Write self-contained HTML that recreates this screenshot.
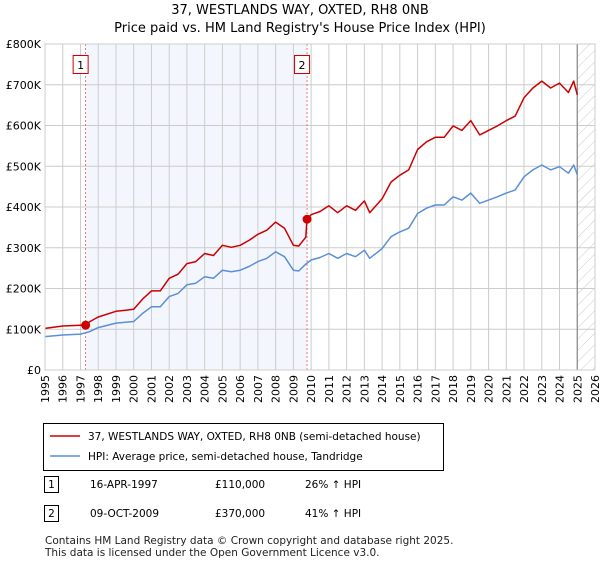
<!DOCTYPE html>
<html><head><meta charset="utf-8"><style>
body{margin:0;background:#fff;font-family:"Liberation Sans","DejaVu Sans",sans-serif;}
svg text{font-family:"DejaVu Sans","Liberation Sans",sans-serif;}
</style></head><body>
<svg width="600" height="560" id="chart">
<defs><pattern id="hatch" width="8" height="8" patternUnits="userSpaceOnUse" patternTransform="rotate(45)"><line x1="0" y1="0" x2="0" y2="8" stroke="#ccc" stroke-width="1"/></pattern></defs>
<text x="300" y="14" text-anchor="middle" font-size="13">37, WESTLANDS WAY, OXTED, RH8 0NB</text>
<text x="300" y="32" text-anchor="middle" font-size="13">Price paid vs. HM Land Registry's House Price Index (HPI)</text>
<g id="plot"></g>
<g>
<rect x="43.5" y="423.5" width="400" height="47" fill="#fff" stroke="#000"/>
<line x1="50" y1="436" x2="80" y2="436" stroke="#cc0000" stroke-width="1.5"/>
<text x="88" y="440" font-size="10.5">37, WESTLANDS WAY, OXTED, RH8 0NB (semi-detached house)</text>
<line x1="50" y1="456" x2="80" y2="456" stroke="#5b8fd6" stroke-width="1.5"/>
<text x="88" y="460" font-size="10.5">HPI: Average price, semi-detached house, Tandridge</text>
</g>
<g font-size="10.5">
<rect x="44.5" y="476.5" width="14" height="16" fill="#fff" stroke="#000"/><text x="51.5" y="488" text-anchor="middle">1</text>
<text x="90" y="488">16-APR-1997</text><text x="215" y="488">£110,000</text><text x="305" y="488">26% ↑ HPI</text>
<rect x="44.5" y="505.5" width="14" height="16" fill="#fff" stroke="#000"/><text x="51.5" y="517" text-anchor="middle">2</text>
<text x="90" y="517">09-OCT-2009</text><text x="215" y="517">£370,000</text><text x="305" y="517">41% ↑ HPI</text>
</g>
<text x="45" y="544" font-size="10.5" fill="#222">Contains HM Land Registry data © Crown copyright and database right 2025.</text>
<text x="45" y="556" font-size="10.5" fill="#222">This data is licensed under the Open Government Licence v3.0.</text>
</svg>
<script>
const yearsT=[1995,1996,1997,1998,1999,2000,2001,2002,2003,2004,2005,2006,2007,2008,2009,2010,2011,2012,2013,2014,2015,2016,2017,2018,2019,2020,2021,2022,2023,2024,2025,2026];
const yTicks=[0,100000,200000,300000,400000,500000,600000,700000,800000];
const yLabels=["£0","£100K","£200K","£300K","£400K","£500K","£600K","£700K","£800K"];
const hpiT=[1995,1996,1997,1997.5,1998,1999,2000,2000.5,2001,2001.5,2002,2002.5,2003,2003.5,2004,2004.5,2005,2005.5,2006,2006.5,2007,2007.5,2008,2008.5,2009,2009.3,2009.7,2010,2010.5,2011,2011.5,2012,2012.5,2013,2013.3,2014,2014.5,2015,2015.5,2016,2016.5,2017,2017.5,2018,2018.5,2019,2019.5,2020,2020.5,2021,2021.5,2022,2022.5,2023,2023.5,2024,2024.5,2024.8,2025];
const hpiV=[82,86,88,94,104,115,119,139,155,155,180,188,209,213,229,225,245,241,245,254,266,274,290,278,245,243,260,270,276,286,274,286,278,294,274,298,327,339,348,384,397,405,405,425,417,434,409,417,425,434,442,474,491,503,491,499,483,503,479];
const priceT=[1995,1996,1997,1997.29,1997.5,1998,1999,2000,2000.5,2001,2001.5,2002,2002.5,2003,2003.5,2004,2004.5,2005,2005.5,2006,2006.5,2007,2007.5,2008,2008.5,2009,2009.3,2009.7,2009.77,2010,2010.5,2011,2011.5,2012,2012.5,2013,2013.3,2014,2014.5,2015,2015.5,2016,2016.5,2017,2017.5,2018,2018.5,2019,2019.5,2020,2020.5,2021,2021.5,2022,2022.5,2023,2023.5,2024,2024.5,2024.8,2025];
const priceV=[102,108,110,110,118,130,144,149,174,194,194,225,235,261,266,286,281,306,301,306,318,333,343,363,348,306,304,326,370,381,389,403,386,403,392,415,386,420,461,478,491,541,560,571,571,599,588,612,577,588,599,612,623,668,692,709,692,704,681,709,675];
const saleT=[1997.29,2009.77];
const saleV=[110,370];
const saleLabels=["1","2"];
const NS="http://www.w3.org/2000/svg";
const L=45,R=595,T=44,B=370;
const xs=t=>L+(t-1995)/(2026-1995)*(R-L);
const ys=v=>B-v/800000*(B-T);
const g=document.getElementById('plot');
function mk(tag,a){const e=document.createElementNS(NS,tag);for(const k in a)e.setAttribute(k,a[k]);g.appendChild(e);return e;}
let e;
e=mk('rect',{x:xs(saleT[0]),y:T,width:xs(saleT[1])-xs(saleT[0]),height:B-T,fill:'#eef3fc',opacity:0.7});


e=mk('rect',{x:xs(2025),y:T,width:R-xs(2025),height:B-T,fill:'url(#hatch)'});


yTicks.forEach((v,i)=>{
 mk('line',{x1:L,x2:R,y1:ys(v),y2:ys(v),stroke:'#ccc'});
 e=mk('text',{x:L-4,y:ys(v)+4,'text-anchor':'end','font-size':11});e.textContent=yLabels[i];
 
 
});
yearsT.forEach(t=>{
 mk('line',{x1:xs(t),x2:xs(t),y1:T,y2:B,stroke:'#ccc'});
 e=mk('text',{x:0,y:0,'text-anchor':'end','font-size':11,transform:`translate(${xs(t)+4},${B+5}) rotate(-90)`});e.textContent=t;
 
 
});
mk('line',{x1:xs(2025),x2:xs(2025),y1:T,y2:B,stroke:'#888','stroke-width':1.2});
saleT.forEach((t,i)=>{
 mk('line',{x1:xs(t),x2:xs(t),y1:T,y2:B,stroke:'#ee5555','stroke-dasharray':'2,2','stroke-width':0.8});
});
function path(tt,vv,col,name){let d='';tt.forEach((t,i)=>{d+=(i?'L':'M')+xs(t).toFixed(1)+','+ys(vv[i]*1000).toFixed(1);});
 const p=mk('path',{d:d,fill:'none',stroke:col,'stroke-width':1.5,'stroke-linejoin':'round'});
 
 }
path(hpiT,hpiV,'#5b8fd6','hpi-line');
path(priceT,priceV,'#cc0000','price-paid-line');
saleT.forEach((t,i)=>{
 e=mk('circle',{cx:xs(t),cy:ys(saleV[i]*1000),r:4.5,fill:'#cc0000'});
 
 
 e=mk('rect',{x:xs(t)-12.5,y:55.5,width:15,height:18,fill:'#fff',stroke:'#cc0000'});
 
 
 e=mk('text',{x:xs(t)-5,y:69,'text-anchor':'middle','font-size':11});e.textContent=saleLabels[i];
 
 
});
mk('rect',{x:L,y:T,width:R-L,height:B-T,fill:'none',stroke:'#ccc'});
</script>
</body></html>
